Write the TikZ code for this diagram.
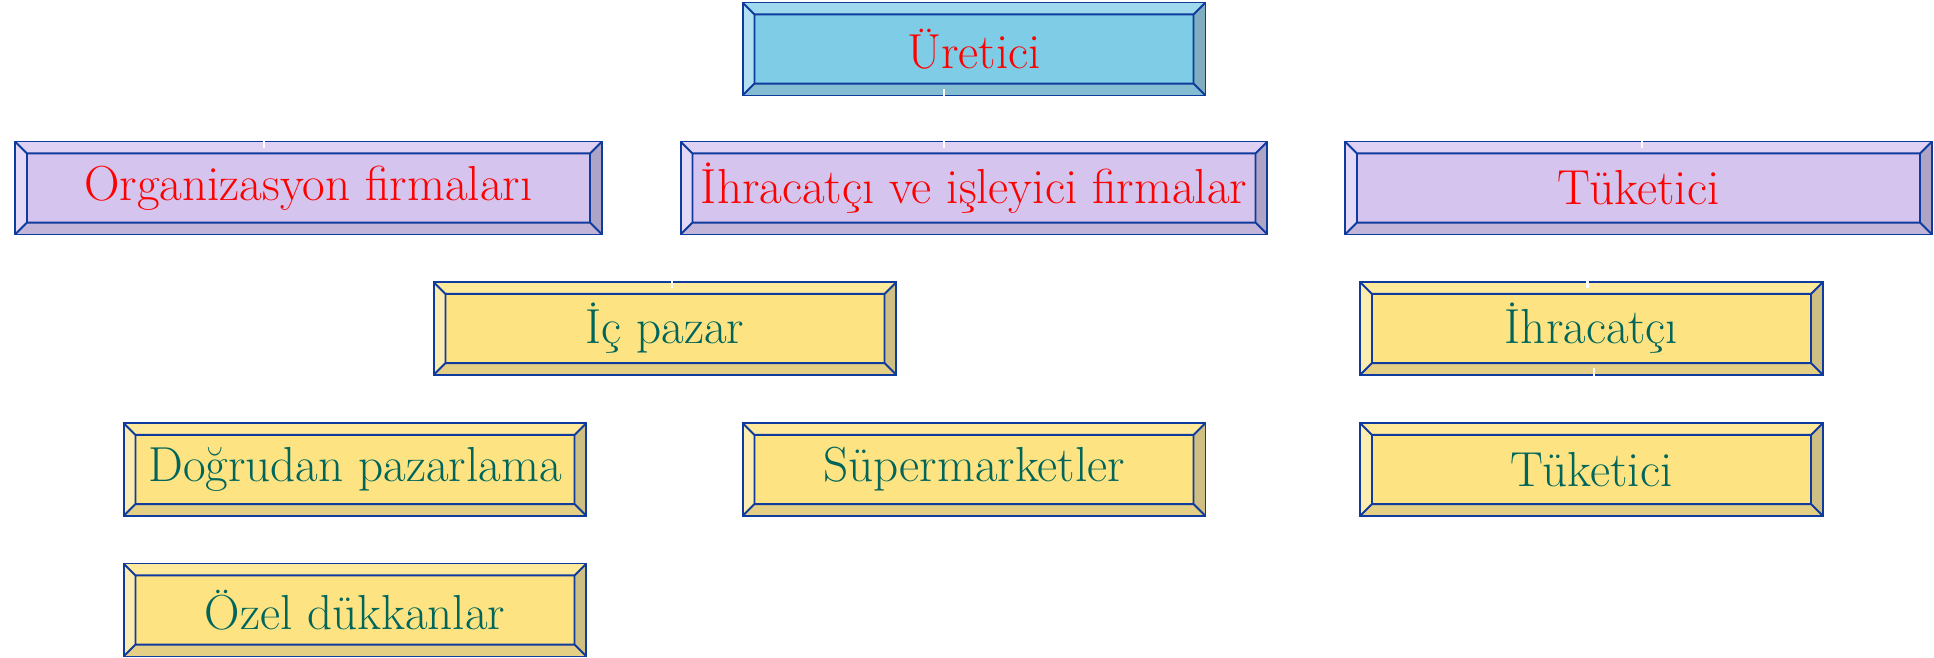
\documentclass[tikz,border=0pt]{standalone}
\usepackage{fontspec}
\usetikzlibrary{calc}
\usetikzlibrary{positioning}

\definecolor{bvedge}{HTML}{0F3A9E}
\definecolor{txtred}{HTML}{FF0000}
\definecolor{txtteal}{HTML}{00665C}
% blue
\definecolor{blface}{HTML}{7ECCE5}
\definecolor{bltop}{HTML}{9ED9EE}
\definecolor{blleft}{HTML}{B0E0F2}
\definecolor{blright}{HTML}{7EAEC0}
\definecolor{blbot}{HTML}{84BDD1}
% purple
\definecolor{puface}{HTML}{D4C4EE}
\definecolor{putop}{HTML}{DED1F3}
\definecolor{puleft}{HTML}{E3D9F6}
\definecolor{puright}{HTML}{ADA4C6}
\definecolor{pubot}{HTML}{C3B4DA}
% yellow
\definecolor{yeface}{HTML}{FDE382}
\definecolor{yetop}{HTML}{FEEA9A}
\definecolor{yeleft}{HTML}{FEEDB0}
\definecolor{yeright}{HTML}{D0BF82}
\definecolor{yebot}{HTML}{E4CF84}

\newcommand{\bevw}{6.8pt}

\begin{document}
\begin{tikzpicture}[x=0.02cm,y=-0.02cm,line cap=round]
\tikzset{bevelbox/.style n args={5}{draw=bvedge,line width=1.1pt,fill=#1,
    inner sep=0pt,minimum width=9.26cm,minimum height=1.86cm,
    font=\fontsize{28}{33}\selectfont,
    path picture={
        \coordinate (bNW) at (path picture bounding box.north west);
        \coordinate (bNE) at (path picture bounding box.north east);
        \coordinate (bSW) at (path picture bounding box.south west);
        \coordinate (bSE) at (path picture bounding box.south east);
        \coordinate (iNW) at ([shift={(\bevw,-\bevw)}]bNW);
        \coordinate (iNE) at ([shift={(-\bevw,-\bevw)}]bNE);
        \coordinate (iSW) at ([shift={(\bevw,\bevw)}]bSW);
        \coordinate (iSE) at ([shift={(-\bevw,\bevw)}]bSE);
        \fill[#2] (bNW) -- (bNE) -- (iNE) -- (iNW) -- cycle;
        \fill[#3] (bNW) -- (iNW) -- (iSW) -- (bSW) -- cycle;
        \fill[#4] (bNE) -- (bSE) -- (iSE) -- (iNE) -- cycle;
        \fill[#5] (bSW) -- (iSW) -- (iSE) -- (bSE) -- cycle;
        \draw[bvedge,line width=1.1pt] (iNW) rectangle (iSE)
            (bNW) -- (iNW) (bNE) -- (iNE) (bSW) -- (iSW) (bSE) -- (iSE);
        }
    }
}
\tikzset{bluebox/.style={bevelbox={blface}{bltop}{blleft}{blright}{blbot},text=txtred}}
\tikzset{purplebox/.style={bevelbox={puface}{putop}{puleft}{puright}{pubot},text=txtred,minimum width=11.74cm}}
\tikzset{yellowbox/.style={bevelbox={yeface}{yetop}{yeleft}{yeright}{yebot},text=txtteal}}
\tikzset{wire/.style={draw=white,line width=1.2pt,line cap=butt,shorten <=1.5pt,shorten >=1.5pt}}

\useasboundingbox (0,0) rectangle (1934,658);

\node[bluebox] (uret) at (974,49) {Üretici};

\node[purplebox] (org) at (308.5,188) {Organizasyon firmaları};
\node[purplebox] (ihr1) at (974,188) {İhracatçı ve işleyici firmalar};
\node[purplebox] (tuk1) at (1638.5,188) {Tüketici};

\node[yellowbox] (ic) at (665,328.5) {İç pazar};
\node[yellowbox] (ihr2) at (1591.5,328.5) {İhracatçı};

\node[yellowbox] (dog) at (355,469.5) {Doğrudan pazarlama};
\node[yellowbox] (sup) at (974,469.5) {Süpermarketler};
\node[yellowbox] (tuk2) at (1591.5,469.5) {Tüketici};

\node[yellowbox] (oz) at (355,610) {Özel dükkanlar};

% connectors
\draw[wire,shorten <=-0.14cm,shorten >=-0.14cm] ([xshift=-0.6cm]uret.south) -- ([xshift=-0.6cm]ihr1.north);
\draw[wire,shorten <=-0.14cm,shorten >=-0.14cm] ([xshift=-0.6cm]uret.south) -- ++(0,20) -| ([xshift=-0.89cm]org.north);
\draw[wire,shorten <=-0.14cm,shorten >=-0.14cm] ([xshift=-0.6cm]uret.south) -- ++(0,20) -| ([xshift=0.07cm]tuk1.north);
\draw[wire,shorten >=-0.14cm] (ihr1.south) -- ++(0,20) -| ([xshift=0.14cm]ic.north);
\draw[wire,shorten >=-0.14cm] (tuk1.south) -- ++(0,20) -| ([xshift=-0.08cm]ihr2.north);
\draw[wire,shorten <=-0.16cm] ([xshift=0.05cm]ihr2.south) -- ([xshift=0.05cm]tuk2.north);
\end{tikzpicture}
\end{document}
